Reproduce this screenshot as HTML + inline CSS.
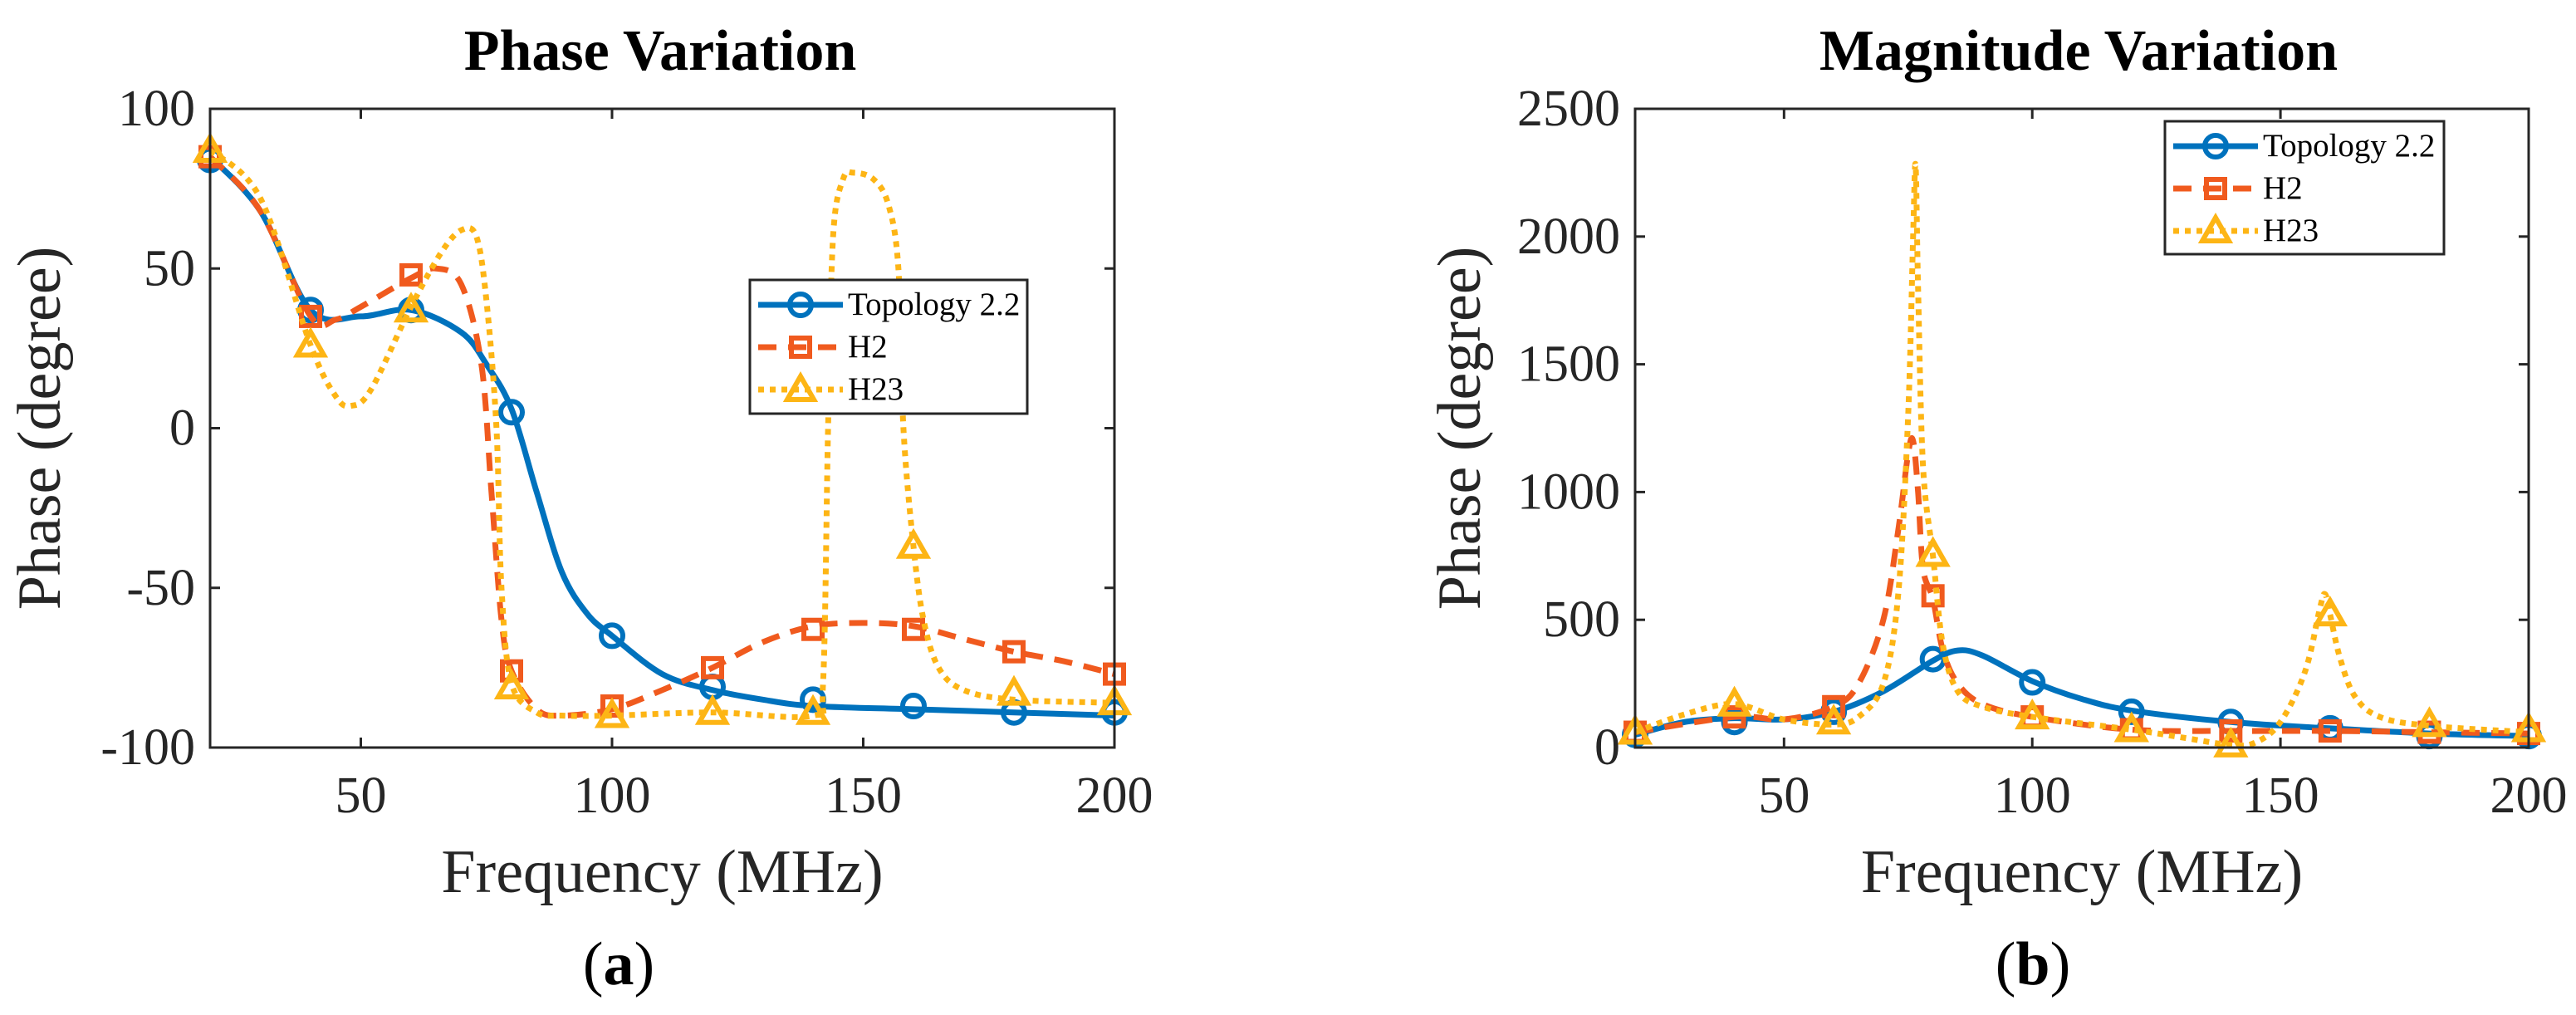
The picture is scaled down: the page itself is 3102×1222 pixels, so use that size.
<!DOCTYPE html>
<html><head><meta charset="utf-8"><style>
html,body{margin:0;padding:0;background:#fff;}
svg{display:block;font-family:"Liberation Serif",serif;}
</style></head><body>
<svg id="chart" width="3102" height="1222" viewBox="0 0 3102 1222" xmlns="http://www.w3.org/2000/svg"></svg>
<script>
const markerFreqs=[20,40,60,80,100,120,140,160,180,200];
// Phase panel data
const phaseTopoX=[20,30,40,50,60,70,75,80,85,90,95,100,110,120,130,140,160,180,200];
const phaseTopoY=[85,68,37,35,37,30,20,6,-20,-45,-58,-65,-77,-82,-85,-87,-88,-89,-90];
const phaseTopoM=[84,37,37,5,-65,-81,-85,-87,-89,-89];
const phaseH2X=[20,30,40,45,50,60,65,70,74,76,78,80,85,90,100,110,120,130,140,150,160,170,180,190,200];
const phaseH2Y=[85,68,35,34,38,47,50,45,20,-20,-60,-76,-88,-90,-88,-82,-75,-67,-62,-61,-62,-66,-70,-73,-77];
const phaseH2M=[85,35,48,-76,-87,-75,-63,-63,-70,-77];
const phaseH23X=[20,30,40,45,48,52,60,66,70,73,75,77,78,80,85,90,100,120,140,142,143,144,146,148,152,155,157,158,160,162,165,170,180,200];
const phaseH23Y=[87,72,26,10,7,12,38,55,62,60,40,0,-50,-80,-89,-90,-90,-89,-90,-80,0,60,78,80,78,70,50,0,-37,-60,-75,-82,-85,-86];
const phaseH23M=[87,26,37,-81,-90,-89,-89,-37,-83,-86];
const phaseTicksY=[100,50,0,-50,-100];
const phaseTickLabelsY=["100","50","0","-50","-100"];
// Magnitude panel data
const magTopoX=[20,30,40,50,60,70,80,85,90,100,110,120,140,160,180,200];
const magTopoY=[50,100,115,110,140,220,340,380,360,260,190,145,100,75,55,45];
const magTopoM=[50,100,140,346,255,140,100,75,45,45];
const magH2X=[20,40,50,60,65,70,73,75,76,77,78,80,82,85,90,100,120,140,160,180,200];
const magH2Y=[60,120,110,160,250,500,850,1150,1200,1000,700,580,380,250,170,120,70,65,65,60,55];
const magH2M=[60,120,160,594,120,70,65,65,60,55];
const magH23X=[20,30,40,50,60,65,70,73,75,76,76.5,77,78,80,82,85,90,100,120,130,140,145,150,155,158,159,160,162,165,170,180,200];
const magH23Y=[60,130,170,110,90,120,250,600,1300,2000,2280,1800,1100,750,400,220,160,120,70,40,10,20,100,300,550,600,520,350,200,120,85,60];
const magH23M=[60,170,100,756,120,70,10,523,90,70];
const magTicksY=[0,500,1000,1500,2000,2500];
const magTickLabelsY=["0","500","1000","1500","2000","2500"];
const ticksX=[50,100,150,200];
const tickLabelsX=["50","100","150","200"];
const seriesNames=["Topology 2.2","H2","H23"];

const NS="http://www.w3.org/2000/svg";
const svg=document.getElementById('chart');
function mk(tag,attrs,parent){const e=document.createElementNS(NS,tag);for(const k in attrs)e.setAttribute(k,attrs[k]);(parent||svg).appendChild(e);return e;}
const BLUE="#0072BD",RED="#F05A1E",YEL="#FDB515";

function smoothPath(pts){
  let d=`M${pts[0][0]},${pts[0][1]}`;
  for(let i=0;i<pts.length-1;i++){
    const p0=pts[Math.max(0,i-1)],p1=pts[i],p2=pts[i+1],p3=pts[Math.min(pts.length-1,i+2)];
    const c1=[p1[0]+(p2[0]-p0[0])/6,p1[1]+(p2[1]-p0[1])/6];
    const c2=[p2[0]-(p3[0]-p1[0])/6,p2[1]-(p3[1]-p1[1])/6];
    d+=` C${c1[0]},${c1[1]} ${c2[0]},${c2[1]} ${p2[0]},${p2[1]}`;
  }
  return d;
}
function marker(g,type,x,y,color){
  let e;
  if(type==='o'){e=mk('circle',{cx:x,cy:y,r:13,fill:'none',stroke:color,'stroke-width':6},g);}
  else if(type==='s'){e=mk('rect',{x:x-11,y:y-11,width:22,height:22,fill:'none',stroke:color,'stroke-width':6},g);}
  else {e=mk('polygon',{points:`${x},${y-16} ${x-16},${y+12} ${x+16},${y+12}`,fill:'none',stroke:color,'stroke-width':6},g);}
  return e;
}
function panel(o){
  const {L,R,T,B,ymin,ymax,name}=o;
  const sx=v=>L+(v-20)/(200-20)*(R-L);
  const sy=v=>B-(v-ymin)/(ymax-ymin)*(B-T);
  const g=mk('g',{});
  
  
  const title=mk('text',{x:o.titleX,y:84,'text-anchor':'middle','font-size':70,'font-weight':'bold',fill:'#000'},g);
  title.textContent=o.title;
  
  
  const clip=mk('clipPath',{id:'clip-'+name},g);
  mk('rect',{x:L,y:T-30,width:R-L+30,height:B-T+60},clip);
  const series=[[o.tx,o.ty,o.tm,BLUE,'o',''],[o.h2x,o.h2y,o.h2m,RED,'s','22 14'],[o.h3x,o.h3y,o.h3m,YEL,'^','7 7']];
  series.forEach((s,i)=>{
    const sg=mk('g',{},g);
    
    
    const pts=s[0].map((x,j)=>[sx(x),sy(s[1][j])]);
    const p=mk('path',{d:smoothPath(pts),fill:'none',stroke:s[3],'stroke-width':7,'stroke-dasharray':s[5]||'none','clip-path':`url(#clip-${name})`},sg);
    
    
    markerFreqs.forEach((f,j)=>{
      const m=marker(sg,s[4],sx(f),sy(s[2][j]),s[3]);
      
      
    });
  });
  const ax=mk('rect',{x:L,y:T,width:R-L,height:B-T,fill:'none',stroke:'#262626','stroke-width':3},g);
  
  
  o.yt.forEach((v,i)=>{
    const y=sy(v);
    mk('line',{x1:L,y1:y,x2:L+12,y2:y,stroke:'#262626','stroke-width':3},g);
    mk('line',{x1:R,y1:y,x2:R-12,y2:y,stroke:'#262626','stroke-width':3},g);
    const t=mk('text',{x:L-18,y:y+20,'text-anchor':'end','font-size':62,fill:'#262626'},g);
    t.textContent=o.yl[i];
    
    
  });
  ticksX.forEach((v,i)=>{
    const x=sx(v);
    mk('line',{x1:x,y1:B,x2:x,y2:B-12,stroke:'#262626','stroke-width':3},g);
    mk('line',{x1:x,y1:T,x2:x,y2:T+12,stroke:'#262626','stroke-width':3},g);
    const t=mk('text',{x:x,y:B+78,'text-anchor':'middle','font-size':62,fill:'#262626'},g);
    t.textContent=tickLabelsX[i];
    
    
  });
  const xl=mk('text',{x:(L+R)/2,y:1074,'text-anchor':'middle','font-size':74,fill:'#262626'},g);
  xl.textContent='Frequency (MHz)';
  
  
  const yl=mk('text',{x:0,y:0,'text-anchor':'middle','font-size':74,fill:'#262626',transform:`translate(${o.ylabX},${(T+B)/2}) rotate(-90)`},g);
  yl.textContent='Phase (degree)';
  
  
  const cap=mk('text',{x:o.capX,y:1185,'text-anchor':'middle','font-size':74,fill:'#000'},g);
  cap.innerHTML='(<tspan font-weight="bold">'+o.cap+'</tspan>)';
  
  
  const lg=mk('g',{},g);
  
  
  const [lx,ly,lw,lh]=o.leg;
  mk('rect',{x:lx,y:ly,width:lw,height:lh,fill:'#fff',stroke:'#262626','stroke-width':3},lg);
  series.forEach((s,i)=>{
    const yy=ly+30+i*51;
    const e=mk('g',{},lg);
    
    
    mk('line',{x1:lx+10,y1:yy,x2:lx+112,y2:yy,stroke:s[3],'stroke-width':7,'stroke-dasharray':s[5]||'none'},e);
    marker(e,s[4],lx+61,yy,s[3]);
    const t=mk('text',{x:lx+118,y:yy+12,'font-size':39,fill:'#000'},e);
    t.textContent=seriesNames[i];
  });
}
panel({name:'phase',title:'Phase Variation',titleX:795,L:253,R:1342,T:131,B:900,ymin:-100,ymax:100,
  tx:phaseTopoX,ty:phaseTopoY,tm:phaseTopoM,h2x:phaseH2X,h2y:phaseH2Y,h2m:phaseH2M,h3x:phaseH23X,h3y:phaseH23Y,h3m:phaseH23M,
  yt:phaseTicksY,yl:phaseTickLabelsY,ylabX:72,cap:'a',capX:745,leg:[903,337,334,161]});
panel({name:'magnitude',title:'Magnitude Variation',titleX:2503,L:1969,R:3045,T:131,B:900,ymin:0,ymax:2500,
  tx:magTopoX,ty:magTopoY,tm:magTopoM,h2x:magH2X,h2y:magH2Y,h2m:magH2M,h3x:magH23X,h3y:magH23Y,h3m:magH23M,
  yt:magTicksY,yl:magTickLabelsY,ylabX:1782,cap:'b',capX:2448,leg:[2607,146,336,160]});
</script>
</body></html>
